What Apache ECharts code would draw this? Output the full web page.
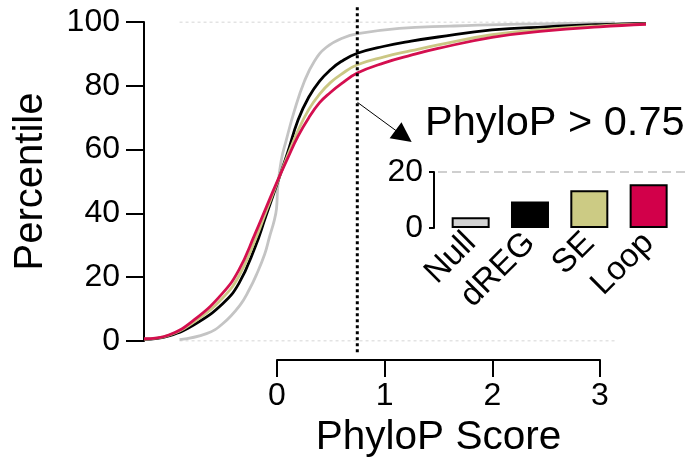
<!DOCTYPE html>
<html>
<head>
<meta charset="utf-8">
<script src="https://cdn.jsdelivr.net/npm/echarts@6/dist/echarts.min.js"></script>
<style>html,body{margin:0;padding:0;background:#fff}#c{width:687px;height:459px}</style>
</head>
<body>
<div id="c"></div>
<script>
// ---- data ----
const scoreX = [-1.23, -1.0, -0.75, -0.5, -0.35, -0.2, -0.1, 0, 0.1, 0.2, 0.3, 0.4, 0.5, 0.6, 0.75, 1.0, 1.25, 1.5, 2.0, 2.5, 3.0, 3.43];
const dregY  = [0.5, 1.6, 5.4, 11.7, 18.0, 29.3, 39.0, 48.7, 58.7, 69.3, 76.5, 81.5, 85.0, 87.6, 90.2, 92.4, 94.0, 95.3, 97.5, 98.5, 99.2, 99.6];
const seY    = [0.6, 1.8, 6.3, 13.5, 20.3, 31.5, 40.3, 49.1, 57.8, 66.0, 72.6, 77.4, 81.0, 83.6, 86.6, 89.1, 91.0, 92.8, 96.0, 97.7, 98.8, 99.4];
const loopY  = [0.7, 1.9, 7.0, 15.0, 22.2, 33.5, 41.5, 49.5, 57.0, 64.2, 70.0, 74.7, 77.9, 80.6, 84.0, 87.2, 89.6, 91.7, 95.2, 97.2, 98.5, 99.3];
const nullX  = [-0.90, -0.65, -0.50, -0.34, -0.25, -0.19, -0.11, -0.065, -0.02, 0.0, 0.012, 0.044, 0.09, 0.167, 0.26, 0.353, 0.46, 0.616, 0.77, 1.14, 1.61, 2.07, 2.6, 3.14];
const nullY  = [0.4, 2.3, 5.4, 11.2, 16.3, 20.5, 27.2, 32.6, 37.9, 41.5, 48.3, 56.6, 62.9, 72.3, 81.5, 87.8, 92.0, 95.0, 96.4, 98.0, 98.7, 99.2, 99.5, 99.7];
const threshold = 0.75;
const xTicks = [0, 1, 2, 3];
const yTicks = [0, 20, 40, 60, 80, 100];
const barCats = ['Null', 'dREG', 'SE', 'Loop'];
const barValues = [3.8, 9.5, 13.5, 15.6];
const barTicks = [0, 20];
const arrowFrom = [0.752, 74.8];
const arrowTo = [1.18, 64.2];

const colors = { Null: '#c4c4c4', dREG: '#000000', SE: '#cbc784', Loop: '#d40f4f' };
const barColors = ['#d3d3d3', '#000000', '#cccb84', '#d2004a'];
const FONT = "'Liberation Sans', Arial, Helvetica, sans-serif";

const zip = (xs, ys) => xs.map((x, i) => [x, ys[i]]);

const chart = echarts.init(document.getElementById('c'), null, { renderer: 'canvas' });
const axisBlack = { lineStyle: { color: '#000', width: 2 } };

const curve = (name, xs, ys, z) => ({
  name, type: 'line', xAxisIndex: 0, yAxisIndex: 0,
  data: zip(xs, ys), symbol: 'none', smooth: 0.45,
  lineStyle: { color: colors[name], width: 2.8 }, z, silent: true
});

chart.setOption({
  animation: false,
  textStyle: { fontFamily: FONT },
  title: {
    text: 'PhyloP > ' + threshold, left: 425, top: 103, padding: 0,
    textStyle: { fontSize: 41.5, fontWeight: 'normal', color: '#000', fontFamily: FONT }
  },
  grid: [
    { left: 144, top: 22, width: 502, height: 319, outerBoundsMode: 'none' },
    { left: 277, top: 22, width: 323, height: 338, outerBoundsMode: 'none' },
    { left: 441, top: 172, width: 237.3, height: 56, outerBoundsMode: 'none' },
    { left: 438, top: 172, width: 249, height: 56, outerBoundsMode: 'none' }
  ],
  xAxis: [
    { gridIndex: 0, type: 'value', min: -1.23, max: 3.43, show: false },
    { gridIndex: 1, type: 'value', min: xTicks[0], max: xTicks[xTicks.length - 1], interval: 1,
      axisLine: { show: true, onZero: false, ...axisBlack }, axisTick: { show: true, length: 17, ...axisBlack },
      splitLine: { show: false },
      axisLabel: { fontSize: 32, color: '#000', margin: 20, fontFamily: FONT },
      name: 'PhyloP Score', nameLocation: 'middle', nameGap: 51,
      nameTextStyle: { fontSize: 40.5, color: '#000', fontFamily: FONT } },
    { gridIndex: 2, type: 'category', data: barCats,
      axisLine: { show: false }, axisTick: { show: false },
      axisLabel: { rotate: 45, fontSize: 33, color: '#000', margin: 10, interval: 0, fontFamily: FONT } },
    { gridIndex: 3, type: 'value', min: 0, max: 1, show: false }
  ],
  yAxis: [
    { gridIndex: 0, type: 'value', min: yTicks[0], max: yTicks[yTicks.length - 1], interval: 20,
      axisLine: { show: true, onZero: false, ...axisBlack }, axisTick: { show: true, length: 18, ...axisBlack },
      splitLine: { show: false },
      axisLabel: { fontSize: 32, color: '#000', margin: 24, fontFamily: FONT },
      name: 'Percentile', nameLocation: 'middle', nameGap: 93, nameRotate: 90,
      nameTextStyle: { fontSize: 40, color: '#000', fontFamily: FONT } },
    { gridIndex: 1, type: 'value', min: 0, max: 1, show: false },
    { gridIndex: 2, type: 'value', min: barTicks[0], max: barTicks[1], interval: 20, offset: 7,
      axisLine: { show: true, onZero: false, ...axisBlack }, axisTick: { show: true, length: 5, ...axisBlack },
      splitLine: { show: false },
      axisLabel: { fontSize: 32, color: '#000', margin: 11, fontFamily: FONT } },
    { gridIndex: 3, type: 'value', min: barTicks[0], max: barTicks[1], show: false }
  ],
  series: [
    { type: 'line', xAxisIndex: 0, yAxisIndex: 0, symbol: 'none', silent: true, z: 1,
      data: [[nullX[0], 0], [nullX[nullX.length - 1], 0]],
      lineStyle: { color: '#c8c8c8', width: 1, type: [3, 3] } },
    { type: 'line', xAxisIndex: 0, yAxisIndex: 0, symbol: 'none', silent: true, z: 1,
      data: [[nullX[0], 100], [nullX[nullX.length - 1], 100]],
      lineStyle: { color: '#c8c8c8', width: 1, type: [3, 3] } },
    curve('Null', nullX, nullY, 2),
    curve('dREG', scoreX, dregY, 3),
    curve('SE', scoreX, seY, 4),
    curve('Loop', scoreX, loopY, 5),
    { type: 'line', xAxisIndex: 0, yAxisIndex: 0, symbol: 'none', silent: true, clip: false, z: 6,
      data: [[threshold, 104.6], [threshold, -3.9]],
      lineStyle: { color: '#000', width: 3, type: [3, 3] },
      markLine: {
        silent: true, symbol: ['none', 'triangle'], symbolSize: 20,
        label: { show: false }, emphasis: { disabled: true },
        lineStyle: { color: '#000', width: 1, type: 'solid' },
        data: [[{ coord: arrowFrom }, { coord: arrowTo }]]
      } },
    { type: 'line', xAxisIndex: 1, yAxisIndex: 1, data: [], symbol: 'none', silent: true },
    { type: 'line', xAxisIndex: 3, yAxisIndex: 3, symbol: 'none', silent: true, z: 1,
      data: [[0, barTicks[1]], [1, barTicks[1]]],
      lineStyle: { color: '#cfcfcf', width: 2, type: [9, 5] } },
    { type: 'bar', xAxisIndex: 2, yAxisIndex: 2, barWidth: 38, silent: true, z: 3,
      data: barValues.map((v, i) => ({ value: v, itemStyle: { color: barColors[i] } })),
      itemStyle: { borderColor: '#000', borderWidth: 2 } }
  ]
});
</script>
</body>
</html>
